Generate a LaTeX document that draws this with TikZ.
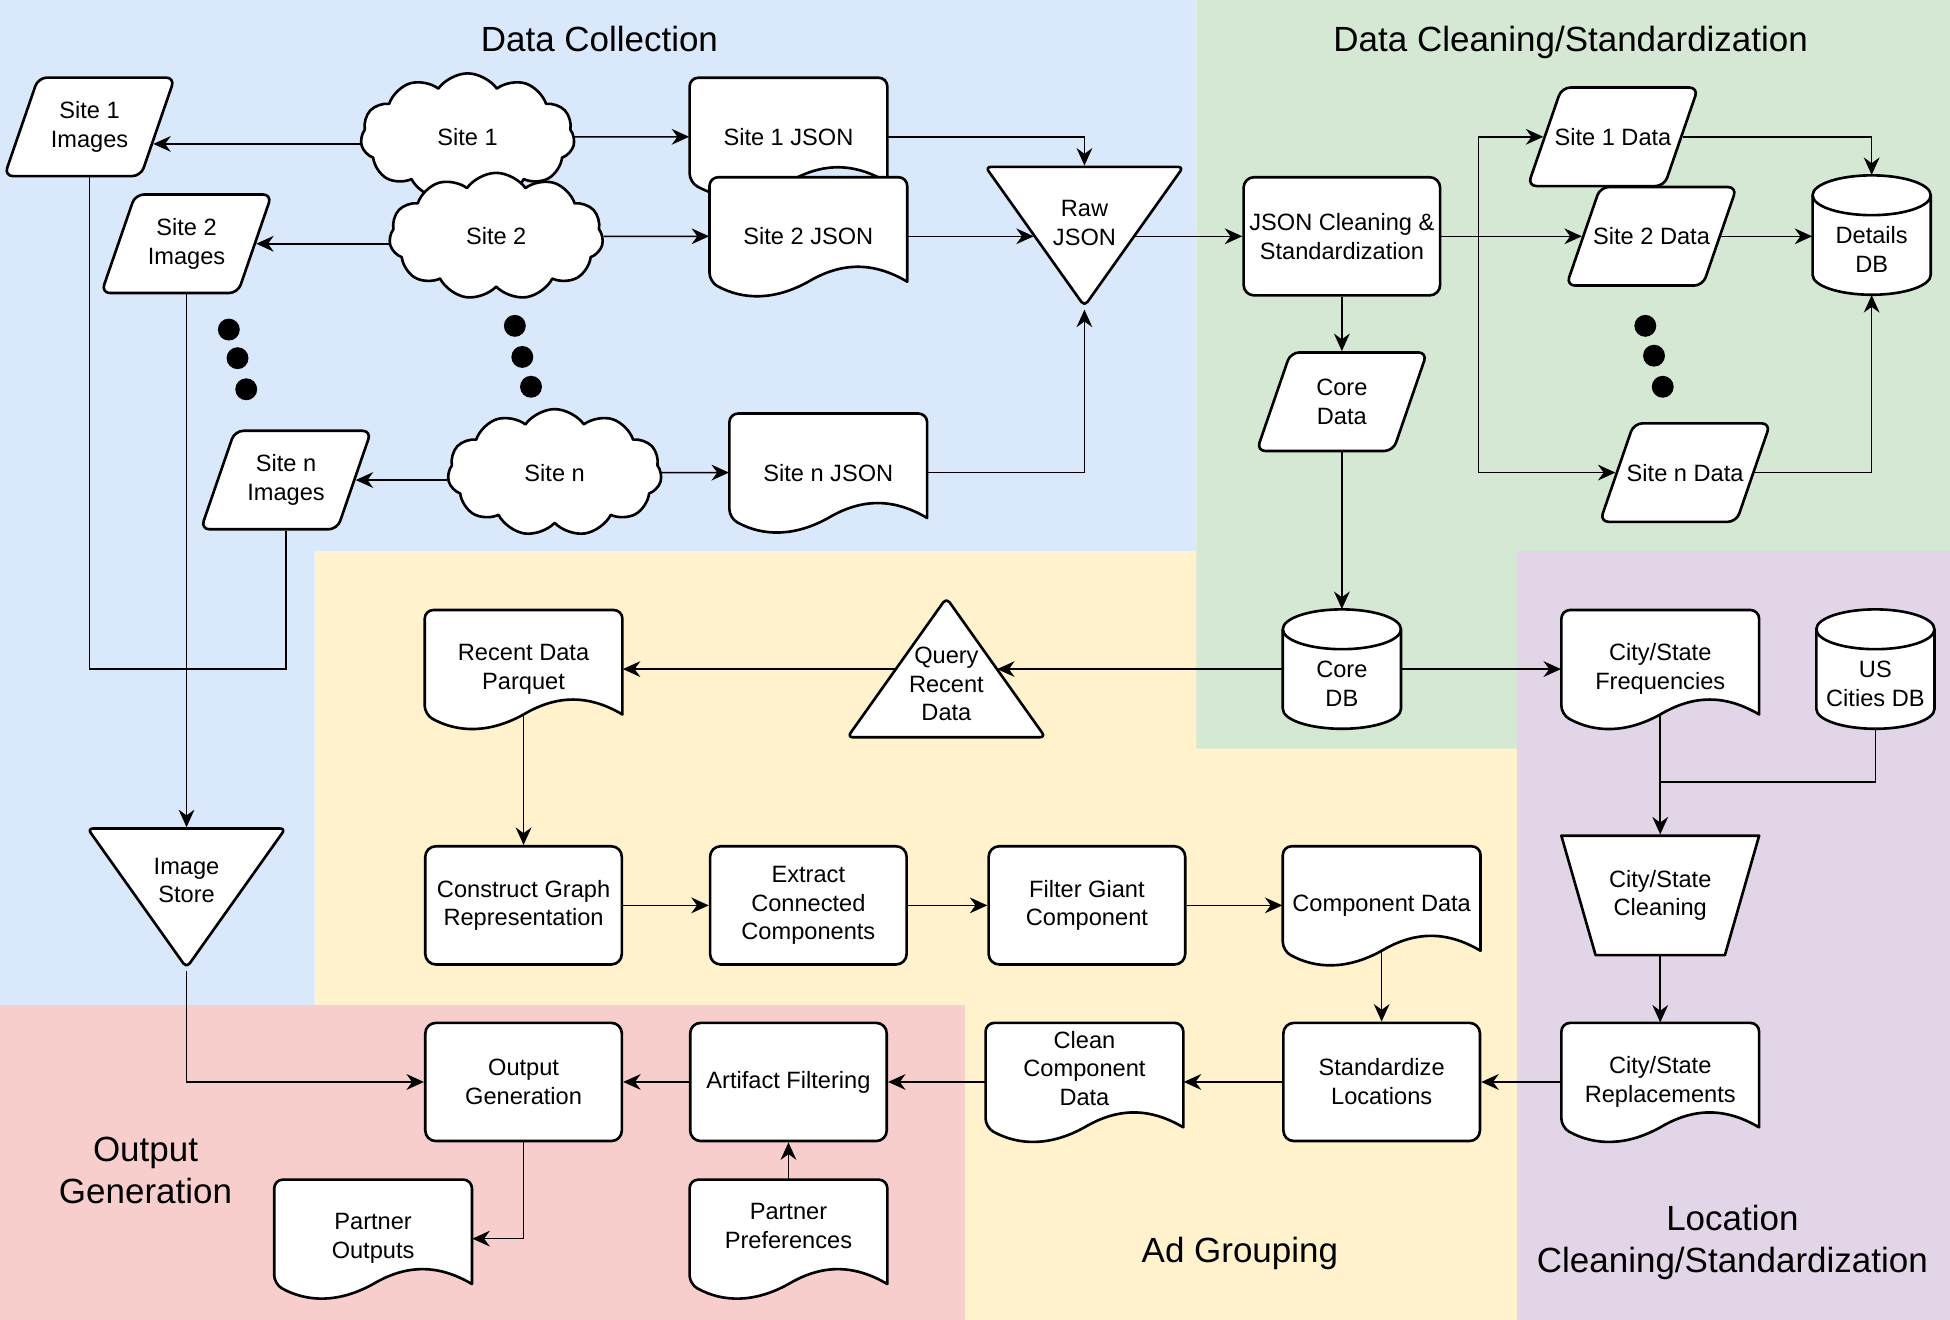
\documentclass[tikz,border=0pt]{standalone}
\usepackage{fontspec}
\setmainfont{Liberation Sans}
\usetikzlibrary{arrows.meta,calc,positioning,shapes.geometric,shapes.symbols}
\definecolor{collectbg}{HTML}{DAE8FC}
\definecolor{cleanbg}{HTML}{D5E8D4}
\definecolor{groupbg}{HTML}{FFF2CC}
\definecolor{locbg}{HTML}{E1D5E7}
\definecolor{outbg}{HTML}{F8CECC}
\newcommand{\docnode}[5][]{%
  \filldraw[shp] (#3+79.5,#4+36.5) [rounded corners=5pt] -- (#3+79.5,#4-47.5) -- (#3-79.5,#4-47.5) -- (#3-79.5,#4+36.5) [sharp corners]
    .. controls (#3-52.5,#4+51.5) and (#3-27,#4+51.5) .. (#3,#4+36.5)
    .. controls (#3+27,#4+20.5) and (#3+52.5,#4+20.5) .. (#3+79.5,#4+36.5) -- cycle;
  \node[doc,label={[#1]center:#5}] (#2) at (#3,#4) {};}
\newcommand{\dbnode}[4]{%
  \filldraw[shp] (#2-47.5,#3-32) -- (#2-47.5,#3+32) arc[start angle=180,end angle=360,x radius=1.1875cm,y radius=0.4cm]
    -- (#2+47.5,#3-32) arc[start angle=0,end angle=180,x radius=1.1875cm,y radius=0.4cm] -- cycle;
  \draw[shp,fill=none] (#2-47.5,#3-32) arc[start angle=180,end angle=360,x radius=1.1875cm,y radius=0.4cm];
  \node[dbbox,label={[yshift=-0.29cm]center:#4}] (#1) at (#2,#3) {};}

\begin{document}
\begin{tikzpicture}[x=0.025cm,y=-0.025cm,
every node/.style={font=\fontsize{13.5}{16.5}\selectfont,align=center,inner sep=1pt},
shp/.style={draw,fill=white,line width=1.5pt,line join=round},
proc/.style={shp,rectangle,rounded corners=6pt,minimum width=3.95cm,minimum height=2.375cm},
doc/.style={rectangle,minimum width=3.975cm,minimum height=2.375cm},
dbbox/.style={rectangle,minimum width=2.375cm,minimum height=2.4cm},
io/.style={shp,trapezium,trapezium left angle=71,trapezium right angle=109,trapezium stretches body,rounded corners=5pt,inner xsep=0pt,inner ysep=0.99cm,minimum width=3.425cm},
site/.style={shp,cloud,cloud puffs=11,cloud puff arc=110,cloud ignores aspect,minimum width=4.3cm,minimum height=2.55cm},
merge/.style={shp,isosceles triangle,isosceles triangle stretches,shape border rotate=270,rounded corners=3pt,minimum width=3.975cm,minimum height=2.8cm,inner sep=0pt,anchor=apex},
extract/.style={merge,shape border rotate=90},
manual/.style={shp,trapezium,trapezium left angle=74,trapezium right angle=74,trapezium stretches body,shape border rotate=180,inner xsep=0pt,inner ysep=1.2cm,minimum width=3.975cm},
conn/.style={line width=0.9pt,-{Stealth[length=10pt,width=9pt]}},
wire/.style={line width=0.9pt},
area/.style={font=\fontsize{20}{24}\selectfont}]
\useasboundingbox (0,0) rectangle (1568,1061);
\fill[groupbg] (253,443) rectangle (1220,1061);
\fill[collectbg] (0,0) -- (962,0) -- (962,443) -- (253,443) -- (253,808) -- (0,808) -- cycle;
\fill[cleanbg] (962,0) -- (1568,0) -- (1568,443) -- (1220,443) -- (1220,602) -- (962,602) -- cycle;
\fill[locbg] (1220,443) rectangle (1568,1061);
\fill[outbg] (0,808) rectangle (776,1061);

\node[area] (tcollect) at (482,31) {Data Collection};
\node[area] (tclean) at (1263,34) {Data Cleaning/Standardization};
\node[area] (toutput) at (117,941) {Output\\Generation};
\node[area] (tgroup) at (997,1008) {Ad Grouping};
\node[area] (tlocation) at (1393,999) {Location\\Cleaning/Standardization};

\node[io,label={center:Site 1\\Images}] (s1img) at (72,102) {};
\node[io,label={center:Site 2\\Images}] (s2img) at (150,196) {};
\node[io,label={center:Site n\\Images}] (snimg) at (230,386) {};
\node[site] (s1) at (376,110) {Site 1};
\node[site] (s2) at (399,190) {Site 2};
\node[site] (sn) at (446,380) {Site n};
\docnode{s1json}{634}{110}{Site 1 JSON}
\docnode{s2json}{650}{190}{Site 2 JSON}
\docnode{snjson}{666}{380}{Site n JSON}
\node[merge] (raw) at (872,249) {};
\node (rawtext) at ($(raw.apex)+(0,-70)$) {Raw\\JSON};
\node[merge] (imgstore) at (150,781) {};
\node (storetext) at ($(imgstore.apex)+(0,-73)$) {Image\\Store};
\foreach \x/\y in {184/265,191/288,198/313,414/262,420/287,427/311,1323/262,1330/286,1337/311}
  \fill (\x,\y) circle[radius=0.22cm];

\node[proc] (clean) at (1079,190) {JSON Cleaning \&\\Standardization};
\node[io,label={center:Core\\Data}] (coredata) at (1079,323) {};
\node[io,label={center:Site 1 Data}] (s1data) at (1297,110) {};
\node[io,label={center:Site 2 Data}] (s2data) at (1328,190) {};
\node[io,label={center:Site n Data}] (sndata) at (1355,380) {};
\dbnode{details}{1505}{189}{Details\\DB}
\dbnode{coredb}{1079}{538}{Core\\DB}

\node[extract] (query) at (761,478) {};
\node (querytext) at ($(query.apex)+(0,72)$) {Query\\Recent\\Data};
\docnode{rdp}{421}{538}{Recent Data\\Parquet}
\node[proc] (cgr) at (421,728) {Construct Graph\\Representation};
\node[proc] (ecc) at (650,728) {Extract\\Connected\\Components};
\node[proc] (fgc) at (874,728) {Filter Giant\\Component};
\docnode{compdata}{1111}{728}{Component Data}
\node[proc] (stdloc) at (1111,870) {Standardize\\Locations};
\docnode[yshift=0.27cm]{ccd}{872}{870}{Clean\\Component\\Data}
\node[proc] (artf) at (634,870) {Artifact Filtering};
\node[proc] (outgen) at (421,870) {Output\\Generation};
\docnode{partout}{300}{996}{Partner\\Outputs}
\docnode[yshift=0.25cm]{partpref}{634}{996}{Partner\\Preferences}

\docnode{csfreq}{1335}{538}{City/State\\Frequencies}
\dbnode{uscities}{1508}{538}{US\\Cities DB}
\node[manual,label={center:City/State\\Cleaning}] (csclean) at (1335,720) {};
\docnode{csrep}{1335}{870}{City/State\\Replacements}

\draw[conn] (s1.west |- s1img.-15) -- (s1img.-15);
\draw[conn] (s2.west |- s2img.east) -- (s2img.east);
\draw[conn] (sn.west |- snimg.east) -- (snimg.east);
\draw[conn] (s1.east) -- (s1json.west);
\draw[conn] (s2.east) -- (s2json.west);
\draw[conn] (sn.east) -- (snjson.west);
\draw[conn] (s1json.east) -| (raw.north);
\draw[conn] (s2json.east) -- (s2json.east -| raw.right side);
\draw[conn] (snjson.east) -| (raw.apex);
\draw[conn] (raw.left side |- clean.west) -- (clean.west);
\coordinate (imgbus) at (150,538);
\draw[wire] (s1img.center |- s1img.south) |- (imgbus) -| (snimg.center |- snimg.south);
\draw[conn] (s2img.center |- s2img.south) -- (imgstore.north);
\draw[conn] (imgstore.apex) |- (outgen.west);

\coordinate (fanout) at (1189,190);
\draw[conn] (clean.east) -- (s2data.west);
\draw[conn] (fanout) |- (s1data.west);
\draw[conn] (fanout) |- (sndata.west);
\draw[conn] (s1data.east) -| (details.north);
\draw[conn] (s2data.east) -- (s2data.east -| details.west);
\draw[conn] (sndata.east) -| (details.south);
\draw[conn] (clean.south) -- (clean.south |- coredata.north);
\draw[conn] (coredata.center |- coredata.south) -- (coredb.north);
\draw[conn] (coredb.west) -- (coredb.west -| query.right side);
\draw[conn] (coredb.east) -- (csfreq.west);

\draw[conn] (rdp.east -| query.left side) -- (rdp.east);
\draw[conn] ([yshift=0.275cm]rdp.south) -- (cgr.north);
\draw[conn] (cgr.east) -- (ecc.west);
\draw[conn] (ecc.east) -- (fgc.west);
\draw[conn] (fgc.east) -- (compdata.west);
\draw[conn] ([yshift=0.275cm]compdata.south) -- (stdloc.north);
\draw[conn] (stdloc.west) -- (ccd.east);
\draw[conn] (ccd.west) -- (artf.east);
\draw[conn] (artf.west) -- (outgen.east);
\draw[conn] (outgen.south) |- (partout.east);
\draw[conn] (partpref.north) -- (artf.south);

\coordinate (cityjoin) at (1335,629);
\draw[conn] ([yshift=0.275cm]csfreq.south) -- (csclean.north);
\draw[wire] (uscities.south) |- (cityjoin);
\draw[conn] (csclean.south) -- (csrep.north);
\draw[conn] (csrep.west) -- (stdloc.east);
\end{tikzpicture}
\end{document}
